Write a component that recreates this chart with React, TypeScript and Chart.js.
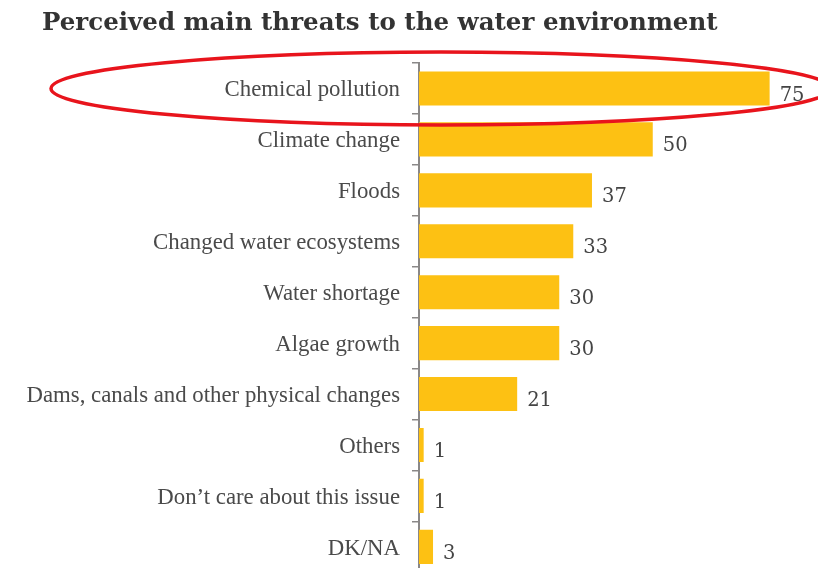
import React, { useEffect, useRef } from "react";
import { Chart, registerables } from "chart.js";

Chart.register(...registerables);

const categories: string[] = [
  "Chemical pollution",
  "Climate change",
  "Floods",
  "Changed water ecosystems",
  "Water shortage",
  "Algae growth",
  "Dams, canals and other physical changes",
  "Others",
  "Don’t care about this issue",
  "DK/NA",
];
const values: number[] = [75, 50, 37, 33, 30, 30, 21, 1, 1, 3];
const titleText = "Perceived main threats to the water environment";

const LABEL_FONT = "'Liberation Serif', serif";
const TITLE_FONT = "'DejaVu Serif', serif";

const overlayPlugin = {
  id: "overlay",
  afterDatasetsDraw(chart: any) {
    const ctx = chart.ctx;
    const meta = chart.getDatasetMeta(0);
    ctx.save();
    ctx.fillStyle = "#444";
    ctx.font = `19.5px ${TITLE_FONT}`;
    ctx.textAlign = "left";
    ctx.textBaseline = "middle";
    meta.data.forEach((bar: any, i: number) => {
      ctx.fillText(String(values[i]), bar.x + 10, bar.y + 7);
    });
    ctx.restore();
  },
  afterDraw(chart: any) {
    const ctx = chart.ctx;
    ctx.save();
    ctx.fillStyle = "#333";
    ctx.font = `bold 24.5px ${TITLE_FONT}`;
    ctx.textAlign = "left";
    ctx.textBaseline = "alphabetic";
    ctx.fillText(titleText, 42, 30);
    // highlight ellipse around first category
    const meta = chart.getDatasetMeta(0);
    const first = meta.data[0];
    ctx.strokeStyle = "#E8141C";
    ctx.lineWidth = 3.5;
    ctx.beginPath();
    ctx.ellipse(441, first.y, 390, 36.5, 0, 0, Math.PI * 2);
    ctx.stroke();
    ctx.restore();
  },
};

export default function App() {
  const ref = useRef<HTMLCanvasElement | null>(null);
  useEffect(() => {
    if (!ref.current) return;
    const chart = new Chart(ref.current, {
      type: "bar",
      data: {
        labels: categories,
        datasets: [
          {
            data: values,
            backgroundColor: "#FDC113",
            borderWidth: 0,
            categoryPercentage: 1,
            barPercentage: 0.67,
          },
        ],
      },
      options: {
        indexAxis: "y",
        animation: false,
        responsive: false,
        devicePixelRatio: 1,
        layout: { padding: { top: 63, right: 25, bottom: 25, left: 0 } },
        plugins: {
          legend: { display: false },
          title: { display: false },
          tooltip: { enabled: false },
        },
        scales: {
          x: {
            display: false,
            min: 0,
            max: 80,
          },
          y: {
            afterFit: (scale: any) => {
              scale.width = 419;
            },
            border: { display: true, color: "#8a8888", width: 2 },
            grid: {
              offset: true,
              drawOnChartArea: false,
              drawTicks: true,
              tickLength: 7,
              color: "#8a8888",
              lineWidth: 1.5,
            },
            ticks: {
              color: "#4a4a4a",
              padding: 12,
              labelOffset: 2,
              font: { family: LABEL_FONT, size: 22.8 },
              autoSkip: false,
            },
          },
        },
      },
      plugins: [overlayPlugin],
    });
    return () => chart.destroy();
  }, []);
  return (
    <div
      style={{
        position: "fixed",
        left: 0,
        top: 0,
        width: 818,
        height: 568,
        overflow: "hidden",
        background: "#fff",
      }}
    >
      <canvas ref={ref} width={818} height={598} style={{ display: "block" }} />
    </div>
  );
}
